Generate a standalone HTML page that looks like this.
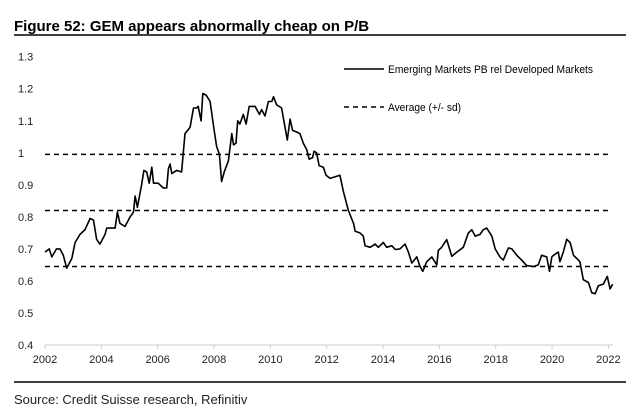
<!DOCTYPE html>
<html><head><meta charset="utf-8"><style>
html,body{margin:0;padding:0;background:#fff;}
body{width:641px;height:414px;overflow:hidden;font-family:"Liberation Sans",Arial,sans-serif;}
</style></head><body>
<svg width="641" height="414" xmlns="http://www.w3.org/2000/svg" font-family="Liberation Sans, Arial, sans-serif">
<text x="14" y="31" font-size="15" font-weight="bold" fill="#000">Figure 52: GEM appears abnormally cheap on P/B</text>
<line x1="14" y1="35" x2="626" y2="35" stroke="#000" stroke-width="1.5"/>
<line x1="14" y1="382" x2="626" y2="382" stroke="#000" stroke-width="1.5"/>
<text x="14" y="404" font-size="13" fill="#222">Source: Credit Suisse research, Refinitiv</text>
<g id="axes"></g>
<g id="plot"></g>
<g>
<line x1="344" y1="69" x2="384" y2="69" stroke="#000" stroke-width="1.5"/>
<text x="388" y="73" font-size="11" fill="#000" textLength="205" lengthAdjust="spacingAndGlyphs">Emerging Markets PB rel Developed Markets</text>
<line x1="344" y1="107" x2="384" y2="107" stroke="#000" stroke-width="1.5" stroke-dasharray="5,4"/>
<text x="388" y="111" font-size="11" fill="#000" textLength="73" lengthAdjust="spacingAndGlyphs">Average (+/- sd)</text>
</g>
</svg>
<script>
const years=[2002.00,2002.15,2002.24,2002.41,2002.53,2002.65,2002.77,2002.95,2003.07,2003.24,2003.42,2003.60,2003.72,2003.83,2003.95,2004.13,2004.19,2004.49,2004.57,2004.66,2004.84,2005.02,2005.14,2005.20,2005.28,2005.43,2005.51,2005.61,2005.70,2005.79,2005.85,2006.02,2006.20,2006.32,2006.38,2006.44,2006.50,2006.67,2006.85,2006.97,2007.15,2007.27,2007.38,2007.44,2007.54,2007.60,2007.72,2007.86,2007.99,2008.09,2008.19,2008.27,2008.36,2008.51,2008.63,2008.69,2008.78,2008.84,2008.92,2009.04,2009.14,2009.25,2009.46,2009.61,2009.69,2009.81,2009.93,2010.05,2010.11,2010.22,2010.40,2010.52,2010.60,2010.70,2010.79,2010.93,2011.05,2011.17,2011.29,2011.38,2011.50,2011.55,2011.64,2011.73,2011.88,2011.98,2012.12,2012.47,2012.59,2012.77,2012.95,2013.01,2013.18,2013.30,2013.36,2013.54,2013.72,2013.83,2014.01,2014.13,2014.31,2014.43,2014.60,2014.78,2014.90,2015.02,2015.20,2015.31,2015.41,2015.55,2015.73,2015.91,2015.96,2016.08,2016.26,2016.44,2016.62,2016.85,2017.03,2017.15,2017.27,2017.44,2017.56,2017.68,2017.86,2017.98,2018.15,2018.27,2018.45,2018.57,2018.75,2018.92,2019.10,2019.34,2019.51,2019.63,2019.81,2019.91,2019.99,2020.05,2020.22,2020.28,2020.40,2020.52,2020.64,2020.76,2020.88,2020.99,2021.11,2021.29,2021.41,2021.53,2021.64,2021.82,2021.96,2022.06,2022.15];
const values=[0.69,0.70,0.675,0.70,0.70,0.68,0.64,0.67,0.72,0.745,0.76,0.795,0.79,0.73,0.715,0.745,0.765,0.765,0.815,0.78,0.77,0.80,0.815,0.865,0.83,0.90,0.945,0.94,0.905,0.955,0.905,0.905,0.89,0.89,0.95,0.965,0.935,0.945,0.94,1.06,1.08,1.14,1.14,1.145,1.10,1.185,1.18,1.16,1.08,1.02,0.995,0.91,0.94,0.975,1.06,1.025,1.03,1.10,1.09,1.12,1.09,1.145,1.145,1.12,1.135,1.115,1.16,1.16,1.175,1.15,1.14,1.08,1.04,1.105,1.07,1.065,1.06,1.03,1.01,0.98,0.985,1.005,1.0,0.96,0.955,0.93,0.92,0.93,0.88,0.82,0.78,0.755,0.75,0.74,0.71,0.705,0.715,0.705,0.72,0.705,0.71,0.698,0.70,0.715,0.69,0.656,0.675,0.646,0.63,0.66,0.675,0.65,0.695,0.705,0.729,0.677,0.69,0.705,0.75,0.76,0.74,0.745,0.76,0.765,0.74,0.70,0.675,0.665,0.703,0.70,0.68,0.665,0.648,0.645,0.65,0.68,0.675,0.63,0.675,0.68,0.69,0.66,0.69,0.73,0.72,0.68,0.67,0.66,0.604,0.595,0.563,0.56,0.585,0.59,0.614,0.575,0.59];
const avgLines=[0.995,0.82,0.645];
const yTicks=[0.4,0.5,0.6,0.7,0.8,0.9,1,1.1,1.2,1.3];
const xTicks=[2002,2004,2006,2008,2010,2012,2014,2016,2018,2020,2022];
const NS='http://www.w3.org/2000/svg';
const X0=45,X1=608.4,Y0=345,Y1=56.7;
function xs(y){return X0+(y-2002)/20*(X1-X0);}
function ys(v){return Y0-(v-0.4)/0.9*(Y0-Y1);}
const axes=document.getElementById('axes'),plot=document.getElementById('plot');
function mk(tag,attrs,parent){const e=document.createElementNS(NS,tag);for(const k in attrs)e.setAttribute(k,attrs[k]);parent.appendChild(e);return e;}
const ax=mk('line',{x1:X0,y1:Y0,x2:613,y2:Y0,stroke:'#ccc','stroke-width':1},axes);


yTicks.forEach(t=>{
 const tx=mk('text',{x:18,y:ys(t)+4,'font-size':11,fill:'#222'},axes);
 tx.textContent=String(t);
 
 
});
xTicks.forEach(t=>{
 const l=mk('line',{x1:xs(t),y1:Y0,x2:xs(t),y2:Y0+4,stroke:'#ccc'},axes);
 
 
 const tx=mk('text',{x:xs(t),y:363,'font-size':11,fill:'#222','text-anchor':'middle'},axes);
 tx.textContent=String(t);
 
 
});
avgLines.forEach(v=>{
 const l=mk('line',{x1:X0,y1:ys(v),x2:610,y2:ys(v),stroke:'#000','stroke-width':1.5,'stroke-dasharray':'5,4'},plot);
 
 
});
const pts=years.map((y,i)=>xs(y).toFixed(1)+','+ys(values[i]).toFixed(1)).join(' ');
const pl=mk('polyline',{points:pts,fill:'none',stroke:'#000','stroke-width':1.6,'stroke-linejoin':'round'},plot);


</script>
</body></html>
